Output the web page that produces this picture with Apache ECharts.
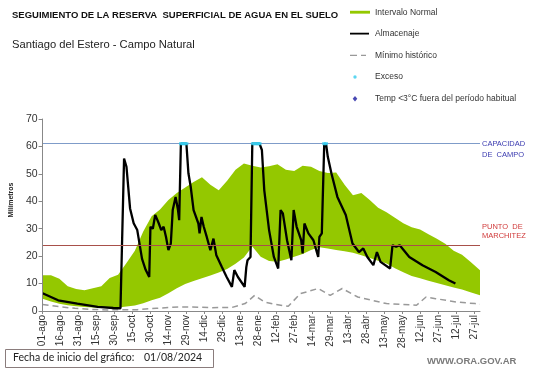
<!DOCTYPE html>
<html>
<head>
<meta charset="utf-8">
<script src="https://cdn.jsdelivr.net/npm/echarts@6/dist/echarts.min.js"></script>
<style>html,body{margin:0;padding:0;background:#fff}#c{width:541px;height:368px}</style>
</head>
<body>
<div id="c"></div>
<script>
// ---- data (day offsets from 01/08/2024) ----
var xTickLabels = ['01-ago','16-ago','31-ago','15-sep','30-sep','15-oct','30-oct','14-nov','29-nov','14-dic','29-dic','13-ene','28-ene','12-feb','27-feb','14-mar','29-mar','13-abr','28-abr','13-may','28-may','12-jun','27-jun','12-jul','27-jul'];
var tickStepDays = 15;

var bandDays = [0,7,14,21,28,35,42,49,56,63,70,77,84,91,98,105,112,119,126,133,140,147,154,161,168,175,182,189,196,203,210,217,224,231,238,245,252,259,266,273,280,287,294,301,308,315,322,329,336,343,350,357,365];
var bandHigh = [13,13,11.8,9,8,7.6,8.3,9,12,13.2,17.5,22,29,34.5,37,40.5,43,45,47,48.8,46,44,47.5,51.5,53.8,53,52.3,52.8,53.5,51.5,51,53,52.6,51,50.3,50.5,46,42.2,43,40.5,37.6,36,34,32,30.5,29.7,28,26.3,24.5,22,20.5,18,14.9];
var bandLow  = [4.5,3.5,2.6,2.1,1.7,1.5,1.3,1.2,1.2,1.3,1.6,2,2.8,3.9,4.8,6.5,8.3,9.8,10.9,11.9,12.9,14,15.3,17.2,19.5,23.5,19.8,18.2,18,18.8,19.8,20.8,22.2,23.2,22.8,22.2,21.8,21.2,20.3,19.3,18.3,17.3,15.6,14.1,12.8,11.9,11,10.2,9.4,8.6,7.8,6.8,5.7];

var minDays = [0,15,27,40,54,79,95,114,125,141,158,169,177,185,193,205,215,230,240,250,263,275,287,312,320,328,345,361,365];
var minVals = [2.4,1.5,1.0,0.6,0.4,0.5,1.0,1.5,1.5,1.2,1.3,2.7,5.7,3.3,2.5,1.7,6.3,8.2,5.7,8.2,5.1,3.9,2.7,2.1,5.1,4.5,3.3,2.7,2.5];

var almDays = [0,13,29,46,59,65,68,70,73,76,79,83,86,89,90,92,94,95.5,97,99,101,103,105,107,108.6,111,113,114,115.4,120,121.7,123.6,126,130,131,132.6,134.5,137,140,142.6,145,149.5,153.6,158,160,163,168.6,170,171,173.5,175,181,183,185,189,193,196.6,198.6,200.5,204,207.6,209.5,212,215.8,217,218.5,221.8,226,230,231,233,235,236.7,238,241,246,253,258.6,264,267.6,271,276,279,282,290,292,295,298,306,317,328,339,344.5];
var almVals = [6.5,3.9,2.7,1.5,1.1,1.0,55.6,52.6,37.4,32,29.5,19,15,12.4,30.7,30,35,33.5,31.9,29.5,30.7,27,22.2,24.6,36.8,41.6,36.8,33.1,61,61,50.2,45.3,36.8,31.9,28.3,34.3,30.7,27,22.2,26.4,20.3,16.1,12.4,8.8,14.9,12.4,8.8,16,18.5,19.7,61,61,58.7,44,29.5,19.7,15.5,36.8,35.6,25.8,18.5,36.8,30.7,25.8,21,31.9,28.3,25.8,19.7,27,28.3,60.5,60.5,56.2,50.2,41.6,35,24.6,21.5,22.8,19.7,16.7,21.5,17.9,15.5,24,23.4,24,19.7,16.7,14.2,11.2,10];

var excesoDays = [115.5,117,118.5,120,175.5,177,178.5,180,181,235,236.5];
var excesoVals = [61,61,61,61,61,61,61,61,61,61,61];
var tempDays = [];
var tempVals = [];

var capacidadCampo = 61;
var puntoMarchitez = 24;

// ---- build ----
function pairs(xs, ys){ return xs.map(function(x,i){ return [x, ys[i]]; }); }
var tickValues = xTickLabels.map(function(_, i){ return i * tickStepDays; });
var bandData = bandDays.map(function(d, i){ return [d, bandLow[i], bandHigh[i]]; });
var FONT = 'Liberation Sans, Arial, sans-serif';
var GREEN = '#94c800';

function renderBand(params, api){
  if (params.dataIndex !== 0) return null;
  var top = [], bottom = [];
  for (var i = 0; i < bandData.length; i++) {
    top.push(api.coord([bandData[i][0], bandData[i][2]]));
    bottom.push(api.coord([bandData[i][0], bandData[i][1]]));
  }
  var pts = top.concat(bottom.reverse());
  return {type: 'polygon', shape: {points: pts}, style: {fill: GREEN}, silent: true};
}

var chart = echarts.init(document.getElementById('c'), null, {renderer:'canvas'});
chart.setOption({
  animation: false,
  backgroundColor: '#fff',
  textStyle: {fontFamily: FONT},
  title: [
    {text: 'SEGUIMIENTO DE LA RESERVA  SUPERFICIAL DE AGUA EN EL SUELO', left: 12, top: 10, padding: 0,
     textStyle: {fontSize: 9.5, fontWeight: 'bold', color: '#111', fontFamily: FONT}},
    {text: 'Santiago del Estero - Campo Natural', left: 12, top: 39, padding: 0,
     textStyle: {fontSize: 11.2, fontWeight: 'normal', color: '#222', fontFamily: FONT}}
  ],
  legend: {
    orient: 'vertical', left: 350, top: 6.5, padding: 0,
    itemWidth: 20, itemHeight: 12, itemGap: 9.7,
    textStyle: {fontSize: 8.5, color: '#333', fontFamily: FONT},
    data: [
      {name: 'Intervalo Normal', icon: 'path://M0,0M20,12M0,4.5L21,4.5L21,7.5L0,7.5Z', itemStyle: {color: GREEN}},
      {name: 'Almacenaje', icon: 'path://M0,0M20,12M0,5.1L19,5.1L19,6.9L0,6.9Z', itemStyle: {color: '#000'}},
      {name: 'Mínimo histórico', icon: 'path://M0,0M20,12M0,5.4L7,5.4L7,6.6L0,6.6ZM11,5.4L16,5.4L16,6.6L11,6.6Z', itemStyle: {color: '#999'}},
      {name: 'Exceso', icon: 'path://M0,0M20,12M3.3,6A1.7,1.7,0,1,1,6.7,6A1.7,1.7,0,1,1,3.3,6Z'},
      {name: 'Temp <3°C fuera del período habitual', icon: 'path://M0,0M20,12M5,3.2L7.3,6L5,8.8L2.7,6Z'}
    ]
  },
  grid: {left: 33, right: 61, top: 119, bottom: 57},
  xAxis: {
    type: 'value', min: 0, max: 365, z: 6,
    axisLine: {lineStyle: {color: '#888', width: 1}},
    axisTick: {show: true, length: 3, lineStyle: {color: '#888'}, customValues: tickValues},
    splitLine: {show: false},
    axisLabel: {
      customValues: tickValues, rotate: 90, fontSize: 10, color: '#333', margin: 4,
      formatter: function(v){ var i = Math.round(v / tickStepDays); return xTickLabels[i] || ''; }
    }
  },
  yAxis: {
    type: 'value', min: 0, max: 70, interval: 10, z: 6,
    name: 'Milímetros', nameLocation: 'middle', nameRotate: 90, nameGap: 27,
    nameTextStyle: {fontSize: 7, fontWeight: 'bold', color: '#222', padding: [0, 0, 0, 30]},
    axisLine: {show: true, lineStyle: {color: '#888', width: 1}},
    axisTick: {show: true, length: 4, lineStyle: {color: '#888'}},
    splitLine: {show: false},
    axisLabel: {fontSize: 10.5, color: '#333', margin: 5}
  },
  series: [
    {name: 'Intervalo Normal', type: 'custom', data: bandData, renderItem: renderBand,
     encode: {x: 0, y: [1, 2]}, itemStyle: {color: GREEN}, z: 1, silent: true},
    {name: 'Mínimo histórico', type: 'line', data: pairs(minDays, minVals), symbol: 'none',
     itemStyle: {color: '#999'}, lineStyle: {color: '#999', width: 1.5, type: [6, 4]}, z: 3,
     markLine: {
       silent: true, symbol: 'none',
       data: [
         {yAxis: capacidadCampo, lineStyle: {color: '#7f9cc9', width: 1, type: 'solid'},
          label: {position: 'end', distance: 2, formatter: '\nCAPACIDAD\nDE  CAMPO', color: '#3b3bb0',
                  fontSize: 7.5, lineHeight: 11, padding: [2, 0, 0, 0]}},
         {yAxis: puntoMarchitez, lineStyle: {color: '#a8504a', width: 1, type: 'solid'},
          label: {position: 'end', distance: 2, formatter: 'PUNTO  DE\nMARCHITEZ\n \n \n ', color: '#d03a3a',
                  fontSize: 7.5, lineHeight: 9}}
       ]
     }},
    {name: 'Almacenaje', type: 'line', data: pairs(almDays, almVals), symbol: 'none',
     itemStyle: {color: '#000'}, lineStyle: {color: '#000', width: 2.3}, z: 4},
    {name: 'Exceso', type: 'scatter', data: pairs(excesoDays, excesoVals), symbol: 'rect',
     symbolSize: [4, 3], itemStyle: {color: '#33ccee'}, z: 5},
    {name: 'Temp <3°C fuera del período habitual', type: 'scatter', data: pairs(tempDays, tempVals),
     symbol: 'diamond', symbolSize: 6, itemStyle: {color: '#1a1aa0'}, z: 5}
  ],
  graphic: [
    {type: 'rect', left: 5, top: 349, shape: {width: 208, height: 18},
     style: {fill: '#fff', stroke: '#8a7c7c', lineWidth: 1}},
    {type: 'text', left: 13, top: 352, style: {text: 'Fecha de inicio del gráfico:', fontSize: 10.5, fontFamily: 'Lato, Liberation Sans, sans-serif', fill: '#222'}},
    {type: 'text', left: 144, top: 352, style: {text: '01/08/2024', fontSize: 10.5, fontFamily: 'Lato, Liberation Sans, sans-serif', fill: '#222'}},
    {type: 'text', left: 427, top: 356, style: {text: 'WWW.ORA.GOV.AR', fontSize: 9.5, fontWeight: 'bold', fontFamily: FONT, fill: '#7a7a7a'}}
  ]
});
</script>
</body>
</html>
